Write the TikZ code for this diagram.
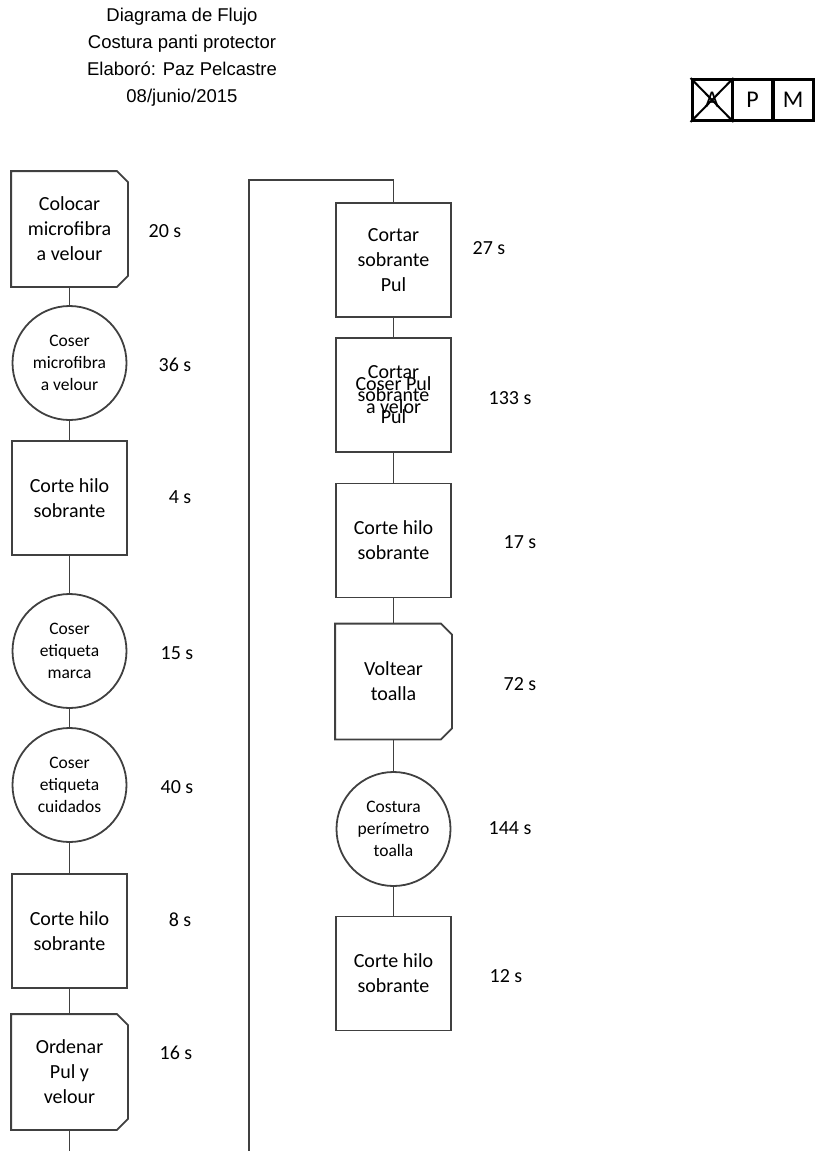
\documentclass[tikz,border=0pt]{standalone}
\usepackage{fontspec}
\setmainfont{Carlito}
\newfontfamily\titlefont{Liberation Sans}
\usetikzlibrary{calc}
\definecolor{linec}{HTML}{404040}
\tikzset{
  shp/.style={draw=linec, line width=1.8pt, minimum width=115pt, minimum height=114pt,
    inner sep=0pt, align=center, text=black, font=\fontsize{20}{25}\selectfont},
  procbox/.style={shp, rectangle},
  opcircle/.style={shp, circle, minimum size=114pt, font=\fontsize{17.5}{21.7}\selectfont},
  manop/.style={procbox, draw=none},
  timelbl/.style={font=\fontsize{20}{24}\selectfont, inner sep=0pt, text=black},
  conn/.style={draw=linec, line width=1.8pt},
  apmbox/.style={draw=black, line width=3pt, minimum width=40pt, minimum height=41pt,
    inner sep=0pt, font=\fontsize{24}{28}\selectfont},
}
\newcommand\manualop[1]{%
  \draw[draw=linec, line width=1.8pt, line join=miter]
    (#1.north west) -- ($(#1.north east)+(-11,0)$) -- ($(#1.north east)+(0,11)$)
    -- ($(#1.south east)+(0,-11)$) -- ($(#1.south east)+(-11,0)$) -- (#1.south west) -- cycle;}
\begin{document}
\begin{tikzpicture}[x=1pt, y=-1pt]
\useasboundingbox (0,0) rectangle (817,1151);
% title
\node[align=center, font=\titlefont\fontsize{18.5}{27}\selectfont, inner sep=0pt] (title) at (182,57)
  {Diagrama de Flujo\\Costura panti protector\\Elaboró: Paz Pelcastre\\08/junio/2015};
% APM
\node[apmbox] (boxA) at (712,100) {A};
\node[apmbox] (boxP) at (752.5,100) {P};
\node[apmbox] (boxM) at (793,100) {M};
\draw[line width=2pt] (boxA.north west) -- (boxA.south east);
\draw[line width=2pt] (boxA.south west) -- (boxA.north east);
% left column
\node[manop] (c1) at (69.5,229) {Colocar\\microfibra\\a velour};
\manualop{c1}
\node[opcircle] (c2) at (69.5,363) {Coser\\microfibra\\a velour};
\node[procbox] (c3) at (69.5,498) {Corte hilo\\sobrante};
\node[opcircle] (c4) at (69.5,651) {Coser\\etiqueta\\marca};
\node[opcircle] (c5) at (69.5,785) {Coser\\etiqueta\\cuidados};
\node[procbox] (c6) at (69.5,931) {Corte hilo\\sobrante};
\node[manop] (c7) at (69.5,1072) {Ordenar\\Pul y\\velour};
\manualop{c7}
% right column
\node[procbox] (r1) at (393.5,260) {Cortar\\sobrante\\Pul};
\node[procbox] (r2) at (393.5,395) {};
\node[align=center, inner sep=0pt, font=\fontsize{20}{22.5}\selectfont] (r2a) at (r2.center) {Cortar\\sobrante\\Pul};
\node[align=center, inner sep=0pt, font=\fontsize{20}{23.5}\selectfont] (r2b) at (r2.center) {Coser Pul\\a velor};
\node[procbox] (r3) at (393.5,540.5) {Corte hilo\\sobrante};
\node[manop] (r4) at (393.5,681.5) {Voltear\\toalla};
\manualop{r4}
\node[opcircle] (r5) at (393.5,829) {Costura\\perímetro\\toalla};
\node[procbox] (r6) at (393.5,973.5) {Corte hilo\\sobrante};
% times
\node[timelbl] (t1) at (165,231) {20 s};
\node[timelbl] (t2) at (175,365) {36 s};
\node[timelbl] (t3) at (180,497) {4 s};
\node[timelbl] (t4) at (177,653) {15 s};
\node[timelbl] (t5) at (177,787) {40 s};
\node[timelbl] (t6) at (180,920) {8 s};
\node[timelbl] (t7) at (176,1053) {16 s};
\node[timelbl] (u1) at (489,248) {27 s};
\node[timelbl] (u2) at (510,398) {133 s};
\node[timelbl] (u3) at (520,542) {17 s};
\node[timelbl] (u4) at (520,684) {72 s};
\node[timelbl] (u5) at (510,828) {144 s};
\node[timelbl] (u6) at (506,976) {12 s};
% connectors
\draw[conn] (c1.south) -- (c2.north);
\draw[conn] (c2.south) -- (c3.north);
\draw[conn] (c3.south) -- (c4.north);
\draw[conn] (c4.south) -- (c5.north);
\draw[conn] (c5.south) -- (c6.north);
\draw[conn] (c6.south) -- (c7.north);
\coordinate (turn) at (249,180);
\coordinate (low) at (249,1152.5);
\draw[conn] (c7.south) |- (low) -- (turn) -| (r1.north);
\draw[conn] (r1.south) -- (r2.north);
\draw[conn] (r2.south) -- (r3.north);
\draw[conn] (r3.south) -- (r4.north);
\draw[conn] (r4.south) -- (r5.north);
\draw[conn] (r5.south) -- (r6.north);
\end{tikzpicture}
\end{document}
